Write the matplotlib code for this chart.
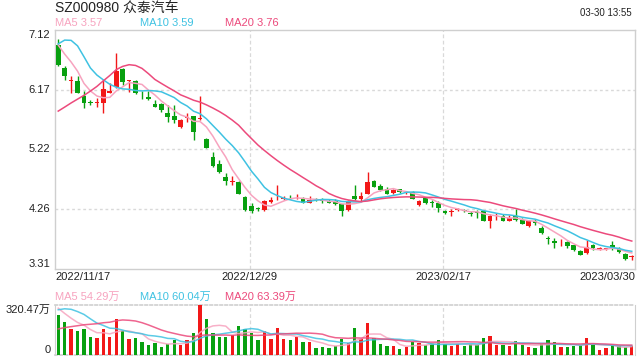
import numpy as np
import pandas as pd
import matplotlib
matplotlib.use('Agg')
import matplotlib.pyplot as plt
from matplotlib import transforms

plt.rcParams['font.family'] = ['Liberation Sans', 'Noto Sans CJK SC', 'DejaVu Sans']

UP = '#f21818'
DOWN = '#08a010'
MA_COLORS = ['#f7a3bf', '#3fc2e2', '#ec4a7c']
GRID = '#d9d9d9'

# sessions before the visible window, only needed to seed the moving averages
prior_close = [5.10, 5.00, 4.90, 4.75, 4.60, 4.50, 4.40, 4.45, 4.60, 5.25,
               5.78, 6.36, 7.00, 7.70, 7.75, 7.10, 6.95, 6.85, 6.94]
prior_vol = [40, 42, 38, 45, 50, 40, 44, 46, 45, 50,
             150, 200, 300, 350, 400, 380, 320, 290, 254]

opens = [6.88, 6.52, 6.30, 6.30, 6.06, 5.97, 5.95, 5.95, 6.12, 6.21,
         6.50, 6.30, 6.30, 6.07, 6.05, 5.94, 5.94, 5.80, 5.75, 5.57,
         5.71, 5.75, 5.70, 5.38, 5.09, 4.99, 4.78, 4.70, 4.69, 4.45,
         4.32, 4.28, 4.25, 4.38, 4.45, 4.42, 4.46, 4.45, 4.44, 4.37,
         4.42, 4.42, 4.40, 4.40, 4.35, 4.25, 4.47, 4.43, 4.51, 4.72,
         4.64, 4.58, 4.52, 4.58, 4.53, 4.53, 4.33, 4.44, 4.38, 4.37,
         4.24, 4.22, 4.25, 4.25, 4.20, 4.21, 4.23, 4.08, 4.15, 4.16,
         4.08, 4.16, 4.09, 3.99, 4.08, 3.97, 3.80, 3.76, 3.75, 3.74,
         3.69, 3.59, 3.56, 3.69, 3.63, 3.63, 3.69, 3.63, 3.55, 3.50]
highs = [6.97, 6.54, 6.39, 6.39, 6.14, 6.01, 6.03, 6.32, 6.27, 6.76,
         6.51, 6.33, 6.33, 6.15, 6.15, 6.01, 5.96, 5.92, 5.93, 5.70,
         5.80, 5.75, 6.06, 5.40, 5.18, 5.04, 4.84, 4.80, 4.72, 4.47,
         4.36, 4.30, 4.41, 4.46, 4.65, 4.47, 4.49, 4.50, 4.45, 4.47,
         4.44, 4.44, 4.42, 4.42, 4.35, 4.41, 4.65, 4.53, 4.86, 4.73,
         4.67, 4.61, 4.58, 4.59, 4.56, 4.55, 4.41, 4.46, 4.41, 4.40,
         4.25, 4.26, 4.29, 4.27, 4.23, 4.25, 4.25, 4.19, 4.21, 4.19,
         4.17, 4.27, 4.12, 4.08, 4.10, 3.99, 3.84, 3.80, 3.79, 3.75,
         3.70, 3.61, 3.78, 3.71, 3.66, 3.65, 3.76, 3.66, 3.57, 3.53]
lows = [6.54, 6.33, 6.11, 6.11, 5.87, 5.93, 5.89, 5.80, 6.11, 6.20,
        6.25, 6.13, 6.10, 6.02, 6.01, 5.89, 5.82, 5.66, 5.63, 5.56,
        5.66, 5.37, 5.69, 5.24, 4.93, 4.84, 4.65, 4.65, 4.50, 4.24,
        4.21, 4.24, 4.23, 4.36, 4.41, 4.41, 4.42, 4.42, 4.36, 4.36,
        4.39, 4.37, 4.36, 4.33, 4.16, 4.24, 4.41, 4.40, 4.50, 4.61,
        4.56, 4.50, 4.50, 4.52, 4.50, 4.42, 4.32, 4.35, 4.30, 4.22,
        4.19, 4.15, 4.23, 4.22, 4.16, 4.13, 4.07, 3.96, 4.09, 4.07,
        4.07, 4.08, 4.02, 3.98, 4.01, 3.87, 3.71, 3.64, 3.68, 3.65,
        3.59, 3.53, 3.55, 3.62, 3.61, 3.61, 3.61, 3.57, 3.46, 3.46]
closes = [6.56, 6.38, 6.32, 6.12, 5.96, 5.96, 5.98, 6.18, 6.15, 6.47,
          6.29, 6.32, 6.12, 6.06, 6.02, 5.90, 5.84, 5.73, 5.68, 5.68,
          5.73, 5.50, 5.72, 5.24, 4.95, 4.85, 4.71, 4.72, 4.51, 4.25,
          4.23, 4.27, 4.39, 4.41, 4.46, 4.44, 4.45, 4.46, 4.37, 4.41,
          4.41, 4.39, 4.37, 4.34, 4.23, 4.39, 4.43, 4.48, 4.69, 4.62,
          4.57, 4.51, 4.57, 4.53, 4.54, 4.43, 4.40, 4.37, 4.37, 4.28,
          4.20, 4.23, 4.26, 4.23, 4.19, 4.20, 4.08, 4.16, 4.16, 4.08,
          4.13, 4.09, 4.03, 4.07, 4.04, 3.88, 3.79, 3.72, 3.76, 3.68,
          3.61, 3.54, 3.66, 3.64, 3.64, 3.64, 3.63, 3.58, 3.47, 3.51]
# volume in 万股
volumes = [256, 212, 167, 154, 167, 116, 110, 167, 116, 231,
           154, 103, 110, 84, 65, 78, 52, 71, 97, 65,
           97, 142, 320.47, 231, 142, 116, 116, 129, 186, 165,
           144, 97, 154, 103, 176, 103, 97, 118, 84, 84,
           48, 52, 48, 55, 105, 74, 176, 105, 207, 111,
           71, 58, 58, 40, 52, 84, 78, 61, 79, 97,
           70, 59, 70, 59, 70, 64, 112, 124, 67, 64,
           58.4, 91.2, 63.5, 53.6, 47.9, 69.8, 96.3, 82.7, 53.4, 50.6,
           57.3, 64.6, 110.2, 66.1, 30.75, 45.2, 65.1, 55.3, 50.8, 55.05]

date_labels = ['2022/11/17', '2022/12/29', '2023/02/17', '2023/03/30']
date_idx = [0, 30, 60, 89]
price_ticks = [7.12, 6.17, 5.22, 4.26, 3.31]
ma_windows = [5, 10, 20]


def moving_averages(prior, values):
    s = pd.Series(list(prior) + list(values), dtype=float)
    return [s.rolling(n).mean().iloc[len(prior):].to_numpy() for n in ma_windows]


n = len(closes)
x = np.arange(n)
o, h, l, c = map(np.array, (opens, highs, lows, closes))
up = c >= o
colors = np.where(up, UP, DOWN)

fig = plt.figure(figsize=(6.4, 3.6), dpi=100)
ax = fig.add_axes([55 / 640, 91 / 360, 580 / 640, 239 / 360])
axv = fig.add_axes([55 / 640, 5 / 360, 580 / 640, 50 / 360])

# ---- price panel ----
ax.set_xlim(-0.5, n - 0.5)
ax.set_ylim(price_ticks[-1], price_ticks[0])
for p in price_ticks[1:-1]:
    ax.axhline(p, color=GRID, lw=1, ls=(0, (2, 2)), zorder=0)
for i in date_idx[1:-1]:
    ax.axvline(i - 0.3, color=GRID, lw=0.9, ls=(0, (3, 2)), zorder=0)

ax.vlines(x, l, h, colors=colors, lw=1, zorder=2)
body = np.maximum(np.abs(c - o), 0.012)
ax.bar(x, body, bottom=np.minimum(o, c), width=0.72, color=colors, lw=0, zorder=3)

for ma, col in zip(moving_averages(prior_close, closes), MA_COLORS):
    ax.plot(x, ma, color=col, lw=1.1, zorder=4)

for side in ['top', 'left', 'right', 'bottom']:
    ax.spines[side].set_color('#cfcfcf')
    ax.spines[side].set_linewidth(1)
ax.set_xticks([])
ax.set_yticks([])

ytrans = transforms.blended_transform_factory(ax.transAxes, ax.transData)
for k, p in enumerate(price_ticks):
    va = 'top' if k == 0 else ('bottom' if k == len(price_ticks) - 1 else 'center')
    ax.text(-0.008, p, f'{p:.2f}', transform=ytrans, ha='right', va=va,
            fontsize=8, color='#222222')

xtrans = transforms.blended_transform_factory(ax.transData, ax.transAxes)
for k, (i, lab) in enumerate(zip(date_idx, date_labels)):
    if k == 0:
        xx, ha = -0.5, 'left'
    elif k == len(date_idx) - 1:
        xx, ha = n - 0.5, 'right'
    else:
        xx, ha = i - 0.3, 'center'
    ax.text(xx, -0.012, lab, transform=xtrans, ha=ha, va='top', fontsize=8, color='#222222')

# legend row for price MAs
last_ma = [m[-1] for m in moving_averages(prior_close, closes)]
for xpos, w, val, col in zip([55, 140, 225], ma_windows, last_ma, MA_COLORS):
    fig.text(xpos / 640, 1 - 23 / 360, f'MA{w} {val:.2f}', color=col, fontsize=8,
             ha='left', va='center')

fig.text(55 / 640, 1 - 8 / 360, 'SZ000980 众泰汽车', fontsize=10, color='#222222',
         ha='left', va='center')
fig.text(632 / 640, 1 - 13 / 360, '03-30 13:55', fontsize=7, color='#222222',
         ha='right', va='center')

# ---- volume panel ----
vmax = max(volumes)
axv.set_xlim(-0.5, n - 0.5)
axv.set_ylim(0, vmax)
axv.bar(x, volumes, width=0.52, color=colors, lw=0, zorder=3)
for i in date_idx[1:-1]:
    axv.axvline(i - 0.3, color=GRID, lw=0.9, ls=(0, (3, 2)), zorder=0)
vol_ma = moving_averages(prior_vol, volumes)
for ma, col in zip(vol_ma, MA_COLORS):
    axv.plot(x, ma, color=col, lw=1.1, alpha=0.85, zorder=4)

for side in ['left', 'right']:
    axv.spines[side].set_color('#cfcfcf')
for side in ['top', 'bottom']:
    axv.spines[side].set_color('#cfcfcf')
    axv.spines[side].set_linestyle((0, (1.5, 1.5)))
    axv.spines[side].set_linewidth(1.2)
axv.set_xticks([])
axv.set_yticks([])
vtrans = transforms.blended_transform_factory(axv.transAxes, axv.transData)
axv.text(-0.008, vmax, f'{vmax:.2f}万', transform=vtrans, ha='right', va='top',
         fontsize=8, color='#222222')
axv.text(-0.008, 0, '0', transform=vtrans, ha='right', va='bottom',
         fontsize=8, color='#222222')

for xpos, w, ma, col in zip([55, 140, 225], ma_windows, vol_ma, MA_COLORS):
    fig.text(xpos / 640, 1 - 297 / 360, f'MA{w} {ma[-1]:.2f}万', color=col, fontsize=8,
             ha='left', va='center')

fig.savefig('out.png', dpi=100, facecolor='white')
